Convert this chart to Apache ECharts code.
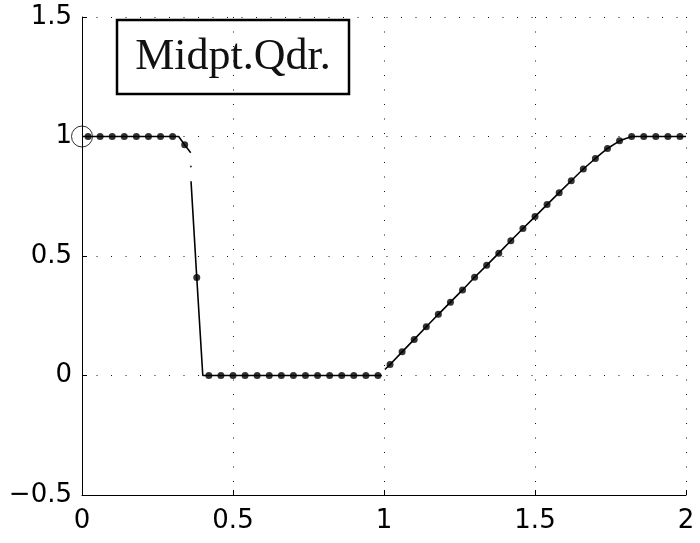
<!DOCTYPE html>
<html>
<head>
<meta charset="utf-8">
<style>
  html, body { margin: 0; padding: 0; background: #fff; }
  #chart { width: 700px; height: 543px; }
</style>
<script src="https://cdn.jsdelivr.net/npm/echarts@6/dist/echarts.min.js"></script>
</head>
<body>
<div id="chart"></div>
<script>
// Midpoint quadrature nodes and computed values
const dotsX = [0.02, 0.06, 0.10, 0.14, 0.18, 0.22, 0.26, 0.30, 0.34, 0.38,
               0.42, 0.46, 0.50, 0.54, 0.58, 0.62, 0.66, 0.70, 0.74, 0.78,
               0.82, 0.86, 0.90, 0.94, 0.98, 1.02, 1.06, 1.10, 1.14, 1.18,
               1.22, 1.26, 1.30, 1.34, 1.38, 1.42, 1.46, 1.50, 1.54, 1.58,
               1.62, 1.66, 1.70, 1.74, 1.78, 1.82, 1.86, 1.90, 1.94, 1.98];
const dotsY = [1, 1, 1, 1, 1, 1, 1, 1, 0.965, 0.41,
               0, 0, 0, 0, 0, 0, 0, 0, 0, 0,
               0, 0, 0, 0, 0, 0.046, 0.099, 0.151, 0.204, 0.256,
               0.307, 0.358, 0.411, 0.461, 0.512, 0.564, 0.615, 0.665, 0.715, 0.765,
               0.815, 0.864, 0.908, 0.950, 0.982, 1, 1, 1, 1, 1];

// Solid profile, drawn in three pieces
const segAX = [0, 0.02, 0.06, 0.10, 0.14, 0.18, 0.22, 0.26, 0.30, 0.32, 0.34, 0.36];
const segAY = [1, 1, 1, 1, 1, 1, 1, 1, 1, 1, 0.965, 0.932];
const segBX = [0.361, 0.38, 0.40, 0.42, 0.46, 0.50, 0.54, 0.58, 0.62, 0.66, 0.70,
               0.74, 0.78, 0.82, 0.86, 0.90, 0.94, 0.98, 0.993];
const segBY = [0.8125, 0.41, 0, 0, 0, 0, 0, 0, 0, 0, 0,
               0, 0, 0, 0, 0, 0, 0, 0];
const segCX = [1.003, 1.02, 1.06, 1.10, 1.14, 1.18, 1.22, 1.26, 1.30, 1.34, 1.38,
               1.42, 1.46, 1.50, 1.54, 1.58, 1.62, 1.66, 1.70, 1.74, 1.78,
               1.82, 1.86, 1.90, 1.94, 1.98, 2];
const segCY = [0.025, 0.046, 0.099, 0.151, 0.204, 0.256, 0.307, 0.358, 0.411, 0.461, 0.512,
               0.564, 0.615, 0.665, 0.715, 0.765, 0.815, 0.864, 0.908, 0.950, 0.982,
               1, 1, 1, 1, 1, 1];
const fragX = [0.3605];
const fragY = [0.875];

// Initial point marker
const startX = [0];
const startY = [1];

const xTicks = [0, 0.5, 1, 1.5, 2];
const yTicks = [-0.5, 0, 0.5, 1, 1.5];
const panelLabel = 'Midpt.Qdr.';

function pairs(xs, ys) { return xs.map((x, i) => [x, ys[i]]); }

const profile = [].concat(
  pairs(segAX, segAY), [[0.3603, '-']],
  pairs(segBX, segBY), [[0.998, '-']],
  pairs(segCX, segCY)
);

const fmt = v => (v < 0 ? '\u2212' + String(-v) : String(v));
const gridLine = { show: true, lineStyle: { color: '#111', width: 1, type: [1, 13.5] } };
const tickFont = { color: '#000', fontSize: 26, fontFamily: 'DejaVu Sans' };

const chart = echarts.init(document.getElementById('chart'));
chart.setOption({
  animation: false,
  backgroundColor: '#fff',
  grid: { left: 82, right: 14, top: 17, bottom: 48 },
  xAxis: {
    type: 'value', min: xTicks[0], max: xTicks[xTicks.length - 1], interval: 0.5,
    axisLine: { show: true, onZero: false, lineStyle: { color: '#000', width: 1 } },
    axisTick: { show: true, inside: true, length: 5, lineStyle: { color: '#000' } },
    axisLabel: Object.assign({ margin: 13, formatter: fmt }, tickFont),
    splitLine: gridLine
  },
  yAxis: {
    type: 'value', min: yTicks[0], max: yTicks[yTicks.length - 1], interval: 0.5,
    axisLine: { show: true, onZero: false, lineStyle: { color: '#000', width: 1 } },
    axisTick: { show: true, inside: true, length: 5, lineStyle: { color: '#000' } },
    axisLabel: Object.assign({ margin: 10, formatter: fmt }, tickFont),
    splitLine: gridLine
  },
  graphic: [
    {
      type: 'rect', z: 10,
      shape: { x: 117, y: 20, width: 232, height: 74 },
      style: { fill: 'none', stroke: '#000', lineWidth: 2.5 }
    },
    {
      type: 'text', z: 10, x: 233, y: 57,
      style: {
        text: panelLabel, fill: '#111', align: 'center', verticalAlign: 'middle',
        font: '44px "Liberation Serif"'
      }
    }
  ],
  series: [
    {
      type: 'line', data: profile, showSymbol: false, connectNulls: false,
      lineStyle: { color: '#000', width: 1.6 }, z: 2
    },
    {
      type: 'scatter', data: pairs(dotsX, dotsY), symbol: 'circle', symbolSize: 7,
      itemStyle: { color: '#000' }, z: 3
    },
    {
      type: 'scatter', data: pairs(fragX, fragY), symbol: 'circle', symbolSize: 2,
      itemStyle: { color: '#000' }, z: 3
    },
    {
      type: 'scatter', data: pairs(startX, startY), symbol: 'circle', symbolSize: 21, clip: false,
      itemStyle: { color: 'rgba(0,0,0,0)', borderColor: '#000', borderWidth: 1 }, z: 4
    }
  ]
});
</script>
</body>
</html>
